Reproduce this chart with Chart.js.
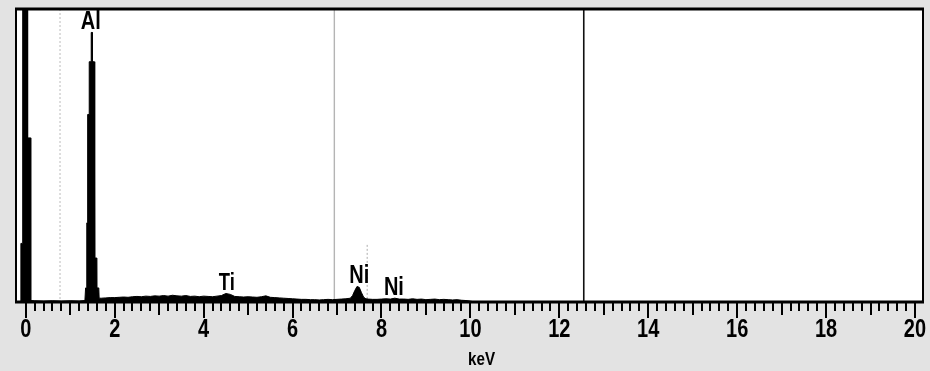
<!DOCTYPE html>
<html lang="en">
  <head>
    <meta charset="UTF-8" />
    <title>EDS spectrum</title>
    <style>
      body { margin: 0; background: #e3e3e3; }
      canvas { display: block; }
    </style>
  </head>
  <body>
    <canvas id="spectre" width="930" height="371"></canvas>

    <script src="https://cdn.jsdelivr.net/npm/chart.js"></script>
    <script>
      // Spectre : énergie (keV) / coups (échelle relative, 100 = haut du cadre)
      const energies = [
        -0.22, -0.12, -0.11, -0.07, -0.069, 0.04, 0.041, 0.11, 0.111, 0.2, 0.4, 0.6, 0.8, 1.0, 1.2, 1.33,
        1.345, 1.37, 1.372, 1.39, 1.392, 1.425, 1.427, 1.47, 1.472, 1.495, 1.497, 1.54, 1.545, 1.552, 1.554,
        1.6, 1.602, 1.642, 1.65,
        1.7, 1.8, 1.9, 2.0, 2.1, 2.2, 2.3, 2.4, 2.5, 2.6, 2.7, 2.8, 2.9, 3.0,
        3.1, 3.2, 3.3, 3.4, 3.5, 3.6, 3.7, 3.8, 3.9, 4.0,
        4.1, 4.2, 4.3, 4.4, 4.5, 4.6, 4.7, 4.8, 4.9, 5.0,
        5.1, 5.2, 5.3, 5.4, 5.5, 5.6, 5.7, 5.8, 5.9, 6.0,
        6.1, 6.2, 6.3, 6.4, 6.5, 6.6, 6.7, 6.8, 6.9, 7.0,
        7.1, 7.2, 7.3, 7.35, 7.4, 7.45, 7.5, 7.55, 7.6, 7.65, 7.7, 7.8, 7.9, 8.0,
        8.1, 8.2, 8.3, 8.4, 8.5, 8.6, 8.7, 8.8, 8.9, 9.0,
        9.1, 9.2, 9.3, 9.4, 9.5, 9.6, 9.7, 9.8, 9.9, 10.0, 10.1, 20.18
      ];
      const coups = [
        0, 0.2, 20, 20, 130, 130, 56, 56, 0.5, 0.4, 0.3, 0.4, 0.3, 0.4, 0.3, 0.5,
        4.8, 4.8, 27, 27, 64, 64, 82, 82, 92, 92, 82, 82, 64, 64, 15,
        15, 4.8, 4.8, 1.3,
        1.3, 1.4, 1.5, 1.5, 1.6, 1.7, 1.6, 1.8, 1.9, 1.8, 2.0, 1.9, 2.1, 2.0,
        2.2, 2.0, 2.3, 2.1, 2.0, 2.2, 1.9, 2.0, 1.8, 2.0,
        1.9, 1.8, 2.0, 2.2, 2.9, 2.6, 1.9, 1.8, 1.7, 1.8,
        1.7, 1.6, 1.8, 2.1, 1.6, 1.5, 1.4, 1.3, 1.2, 1.1,
        1.0, 0.9, 0.9, 0.8, 0.8, 0.7, 0.8, 0.9, 0.8, 0.9,
        1.0, 1.1, 1.3, 2.2, 3.9, 5.3, 5.0, 3.2, 1.6, 1.1, 1.0, 0.9, 0.9, 1.0,
        1.1, 1.0, 1.3, 1.0, 1.0, 0.9, 1.1, 0.9, 1.0, 0.8,
        0.9, 1.0, 0.8, 0.9, 0.8, 0.7, 0.8, 0.6, 0.5, 0.3, 0, 0
      ];

      // Raies identifiées
      const raies = ["Al", "Ti", "Ni", "Ni"];
      const raiesKeV = [1.46, 4.52, 7.5, 8.28];
      const raiesCoups = [95.4, 6.1, 8.9, 4.9];
      const raiesTaille = [25, 23, 25, 25];

      // Curseurs verticaux (keV, hauteur max, couleur, pointillés)
      const curseursKeV = [0.77, 6.94, 7.68, 12.55];
      const curseursHaut = [100, 100, 19.5, 100];
      const curseursCouleur = ["#cfcfcf", "#b4b4b4", "#c4c4c4", "#111111"];
      const curseursTirets = [[2, 2], [], [2, 2], []];

      const graduations = [0, 2, 4, 6, 8, 10, 12, 14, 16, 18, 20];
      const etiquettes = ["0", "2", "4", "6", "8", "10", "12", "14", "16", "18", "20"];

      const POLICE = "'Liberation Sans', Arial, sans-serif";

      // texte gras resserré horizontalement (police étroite)
      function texteEtroit(ctx, txt, x, y, taille) {
        ctx.save();
        ctx.translate(x, y);
        ctx.scale(0.8, 1);
        ctx.font = "bold " + taille + "px " + POLICE;
        ctx.fillText(txt, 0, 0);
        ctx.restore();
      }

      const fondEtCurseurs = {
        id: "fondEtCurseurs",
        beforeDraw(chart) {
          const { ctx, chartArea: a, scales } = chart;
          ctx.save();
          ctx.fillStyle = "#e3e3e3";
          ctx.fillRect(0, 0, chart.width, chart.height);
          ctx.fillStyle = "#ffffff";
          ctx.fillRect(a.left, a.top, a.right - a.left, a.bottom - a.top);
          for (let i = 0; i < curseursKeV.length; i++) {
            const x = scales.x.getPixelForValue(curseursKeV[i]);
            ctx.beginPath();
            ctx.strokeStyle = curseursCouleur[i];
            ctx.lineWidth = i === 3 ? 1.6 : 1.4;
            ctx.setLineDash(curseursTirets[i]);
            ctx.moveTo(x, scales.y.getPixelForValue(curseursHaut[i]));
            ctx.lineTo(x, a.bottom);
            ctx.stroke();
          }
          ctx.restore();
        },
        afterDraw(chart) {
          const { ctx, chartArea: a, scales } = chart;
          ctx.save();
          // cadre
          ctx.strokeStyle = "#000";
          ctx.lineWidth = 3;
          ctx.beginPath();
          ctx.moveTo(a.left - 1, a.top);
          ctx.lineTo(a.right + 1, a.top);
          ctx.stroke();
          ctx.lineWidth = 2;
          ctx.beginPath();
          ctx.moveTo(a.left, a.top);
          ctx.lineTo(a.left, a.bottom);
          ctx.moveTo(a.right, a.top);
          ctx.lineTo(a.right, a.bottom);
          ctx.stroke();
          ctx.lineWidth = 3;
          ctx.beginPath();
          ctx.moveTo(a.left - 1, a.bottom);
          ctx.lineTo(a.right + 1, a.bottom);
          ctx.stroke();

          // graduations tous les 0,2 keV
          ctx.lineWidth = 2;
          ctx.beginPath();
          for (let i = 0; i <= 100; i++) {
            const x = Math.round(scales.x.getPixelForValue(i * 0.2));
            let l = 9;
            if (i % 10 === 0) l = 16;
            else if (i % 5 === 0) l = 13;
            ctx.moveTo(x, a.bottom);
            ctx.lineTo(x, a.bottom + l);
          }
          ctx.stroke();

          ctx.fillStyle = "#000";
          ctx.textAlign = "center";
          ctx.textBaseline = "middle";

          // étiquettes de l'axe
          for (let i = 0; i < graduations.length; i++) {
            texteEtroit(ctx, etiquettes[i], scales.x.getPixelForValue(graduations[i]), a.bottom + 28, 25);
          }

          // noms des raies
          for (let i = 0; i < raies.length; i++) {
            texteEtroit(
              ctx,
              raies[i],
              scales.x.getPixelForValue(raiesKeV[i]),
              scales.y.getPixelForValue(raiesCoups[i]),
              raiesTaille[i]
            );
          }

          // unité de l'axe
          texteEtroit(ctx, "keV", scales.x.getPixelForValue(10.25), 360, 19);
          ctx.restore();
        },
      };

      document.addEventListener("DOMContentLoaded", function () {
        const points = energies.map((e, i) => ({ x: e, y: coups[i] }));

        const config = {
          type: "line",
          data: {
            datasets: [
              {
                data: points,
                fill: "origin",
                borderColor: "#000",
                backgroundColor: "#000",
                borderWidth: 1,
                pointRadius: 0,
                tension: 0,
              },
            ],
          },
          options: {
            responsive: false,
            animation: false,
            plugins: {
              legend: { display: false },
              tooltip: { enabled: false },
            },
            layout: {
              padding: { left: 16, right: 7, top: 9, bottom: 0 },
            },
            scales: {
              x: {
                type: "linear",
                min: -0.22,
                max: 20.18,
                afterBuildTicks: (s) => {
                  s.ticks = graduations.map((v) => ({ value: v }));
                },
                afterFit: (s) => {
                  s.height = 69;
                  s.paddingLeft = 0;
                  s.paddingRight = 0;
                },
                border: { display: false },
                grid: { display: false, drawTicks: false },
                ticks: { display: false },
              },
              y: {
                display: false,
                min: 0,
                max: 100,
              },
            },
          },
          plugins: [fondEtCurseurs],
        };

        const ctx = document.getElementById("spectre").getContext("2d");
        new Chart(ctx, config);
      });
    </script>
  </body>
</html>
